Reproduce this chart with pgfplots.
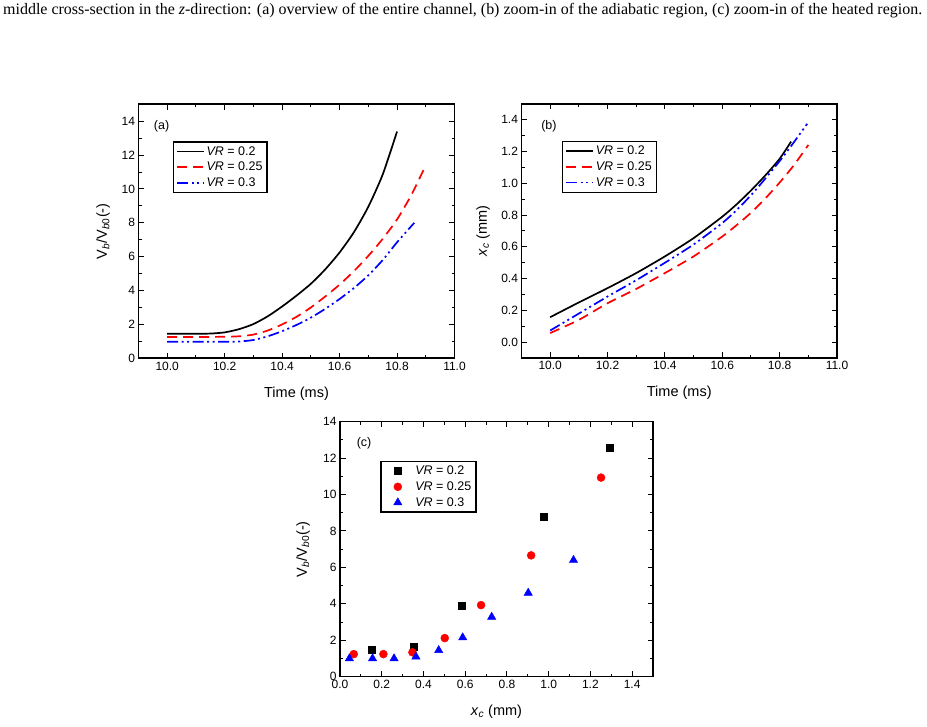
\documentclass[border=0pt]{standalone}
\usepackage{pgfplots}
\pgfplotsset{compat=1.18}
\usepackage{fontspec}
\usepackage{graphicx}
\setmainfont{Liberation Sans}
\newfontfamily\capserif{Liberation Serif}
\definecolor{cred}{RGB}{255,0,0}
\definecolor{cblue}{RGB}{0,0,255}
\pgfplotsset{
  panel/.style={
    scale only axis,
    anchor=south west,
    axis line style={line width=1.6pt},
    tick align=inside,
    major tick length=5.5pt,
    minor tick length=3pt,
    every tick/.style={black, line width=1pt},
    minor tick num=1,
    tick label style={font=\fontsize{12}{12}\selectfont},
    label style={font=\fontsize{14.5}{15}\selectfont},
    /pgf/number format/assume math mode=true,
    xlabel style={at={(axis description cs:0.5,-0.138)}, anchor=center},
    legend cell align=left,
    legend style={anchor=north west, draw=black, line width=1.5pt,
      font=\fontsize{12.5}{13}\selectfont, inner sep=3pt, row sep=2.5pt,
      nodes={inner sep=1.5pt}},
  },
  linelegend/.style={legend image code/.code={\draw[##1] (0pt,0pt) -- (27pt,0pt);}},
  marklegend/.style={legend image code/.code={\path[draw=none,fill=none] (0pt,-2pt) rectangle (30pt,2pt); \draw[##1] plot coordinates {(14pt,0pt)};}},
  fmt1/.style={/pgf/number format/.cd, fixed, fixed zerofill, precision=1},
  curve/.style={line width=1.7pt, smooth, tension=0.4},
  dashred/.style={dash pattern=on 10pt off 6pt},
  dashblue/.style={dash pattern=on 11pt off 3.5pt on 2pt off 3.5pt on 2pt off 3.5pt},
}
\begin{document}
\begin{tikzpicture}
\useasboundingbox (0pt,0pt) rectangle (927pt,727pt);
\node[anchor=base west, inner sep=0] at (3pt,712pt) {\resizebox{919pt}{!}{\capserif\fontsize{13}{13}\selectfont middle cross-section in the \textit{z}-direction: (a) overview of the entire channel, (b) zoom-in of the adiabatic region, (c) zoom-in of the heated region.}};

% ---------------- (a)
\begin{axis}[panel, linelegend, at={(138.5pt,368.7pt)}, width=316pt, height=254pt,
  xmin=9.9, xmax=11.0, ymin=0, ymax=15,
  xtick={10,10.2,10.4,10.6,10.8,11}, ytick={0,2,4,6,8,10,12,14},
  xticklabel style={fmt1},
  xlabel={Time (ms)},
  ylabel={V\textsubscript{\textit{b}}/V\textsubscript{\textit{b}0}(-)},
  ylabel style={at={(axis description cs:-0.112,0.5)}, anchor=center},
  legend style={at={(axis description cs:0.108,0.855)}},
]
\addplot[black, curve] coordinates {
(10.00,1.45) (10.05,1.45) (10.10,1.45) (10.15,1.46) (10.20,1.53) (10.25,1.72)
(10.30,2.02) (10.35,2.48) (10.40,3.06) (10.45,3.70) (10.50,4.40) (10.55,5.25)
(10.60,6.25) (10.65,7.45) (10.70,8.95) (10.75,10.85) (10.80,13.39)};
\addplot[cred, curve, dashred] coordinates {
(10.00,1.26) (10.10,1.26) (10.20,1.27) (10.25,1.30) (10.30,1.40) (10.35,1.64)
(10.40,2.00) (10.45,2.45) (10.50,3.00) (10.55,3.65) (10.60,4.35) (10.65,5.15)
(10.70,6.05) (10.75,7.05) (10.80,8.20) (10.85,9.65) (10.90,11.40)};
\addplot[cblue, curve, dashblue] coordinates {
(10.00,0.98) (10.10,0.98) (10.20,0.98) (10.25,0.99) (10.30,1.08) (10.35,1.30)
(10.40,1.60) (10.45,1.97) (10.50,2.40) (10.55,2.92) (10.60,3.50) (10.65,4.15)
(10.70,4.90) (10.75,5.80) (10.80,6.85) (10.86,8.00)};
\legend{\textit{VR} = 0.2, \textit{VR} = 0.25, \textit{VR} = 0.3}
\node[font=\fontsize{12.5}{12}\selectfont] at (axis description cs:0.073,0.912) {(a)};
\end{axis}

% ---------------- (b)
\begin{axis}[panel, linelegend, at={(521.5pt,369pt)}, width=315.5pt, height=254pt,
  xmin=9.9, xmax=11.0, ymin=-0.1, ymax=1.5,
  xtick={10,10.2,10.4,10.6,10.8,11}, ytick={0,0.2,0.4,0.6,0.8,1.0,1.2,1.4},
  xticklabel style={fmt1}, yticklabel style={fmt1},
  xlabel={Time (ms)},
  ylabel={\textit{x}\textsubscript{\textit{c}} (mm)},
  ylabel style={at={(axis description cs:-0.122,0.5)}, anchor=center},
  legend style={at={(axis description cs:0.128,0.855)}},
]
\addplot[black, curve] coordinates {
(10.00,0.157) (10.10,0.250) (10.20,0.340) (10.30,0.435) (10.40,0.540)
(10.50,0.655) (10.60,0.790) (10.65,0.868) (10.70,0.955) (10.75,1.050) (10.80,1.155) (10.84,1.263)};
\addplot[cred, curve, dashred] coordinates {
(10.00,0.057) (10.10,0.140) (10.20,0.245) (10.30,0.335) (10.40,0.435)
(10.50,0.540) (10.60,0.665) (10.65,0.737) (10.70,0.815) (10.75,0.905) (10.80,1.005) (10.85,1.115) (10.90,1.242)};
\addplot[cblue, curve, dashblue] coordinates {
(10.00,0.073) (10.10,0.180) (10.20,0.287) (10.30,0.390) (10.40,0.500)
(10.50,0.615) (10.60,0.750) (10.65,0.832) (10.70,0.925) (10.75,1.030) (10.80,1.140) (10.84,1.235) (10.896,1.375)};
\legend{\textit{VR} = 0.2, \textit{VR} = 0.25, \textit{VR} = 0.3}
\node[font=\fontsize{12.5}{12}\selectfont] at (axis description cs:0.087,0.912) {(b)};
\end{axis}

% ---------------- (c)
\begin{axis}[panel, marklegend, at={(340pt,50.3pt)}, width=313pt, height=255pt,
  xmin=0, xmax=1.5, ymin=0, ymax=14,
  xtick={0,0.2,0.4,0.6,0.8,1.0,1.2,1.4}, ytick={0,2,4,6,8,10,12,14},
  xticklabel style={fmt1},
  xlabel={\textit{x}\textsubscript{\textit{c}} (mm)},
  ylabel={V\textsubscript{\textit{b}}/V\textsubscript{\textit{b}0}(-)},
  ylabel style={at={(axis description cs:-0.118,0.5)}, anchor=center},
  legend style={at={(axis description cs:0.128,0.847)}},
]
\addplot[only marks, mark=square*, mark size=3.5pt, black, mark options={line width=0.4pt}] coordinates {
(0.151,1.46) (0.355,1.63) (0.581,3.88) (0.976,8.77) (1.292,12.57)};
\addplot[only marks, mark=*, mark size=4pt, cred, mark options={line width=0.4pt}] coordinates {
(0.066,1.24) (0.208,1.24) (0.347,1.34) (0.502,2.12) (0.676,3.93) (0.916,6.66) (1.251,10.93)};
\addplot[only marks, mark=triangle*, mark size=4.8pt, cblue, mark options={line width=0.4pt}] coordinates {
(0.045,1.00) (0.156,1.00) (0.259,1.00) (0.364,1.10) (0.473,1.45) (0.588,2.15) (0.727,3.28) (0.902,4.60) (1.119,6.40)};
\legend{\textit{VR} = 0.2, \textit{VR} = 0.25, \textit{VR} = 0.3}
\node[font=\fontsize{12.5}{12}\selectfont] at (axis description cs:0.077,0.915) {(c)};
\end{axis}
\end{tikzpicture}
\end{document}
